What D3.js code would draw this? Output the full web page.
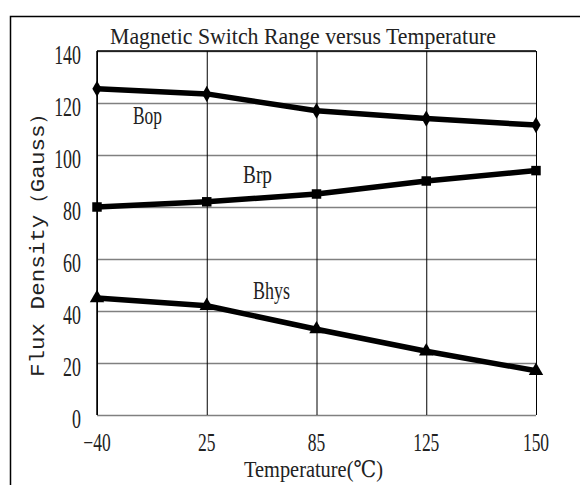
<!DOCTYPE html>
<html><head><meta charset="utf-8">
<script src="https://cdn.jsdelivr.net/npm/d3@7"></script>
<style>body{margin:0;background:#fff}svg{display:block}</style>
</head><body>
<svg id="c" width="580" height="485"></svg>
<script>
const categories = ["-40", "25", "85", "125", "150"];
const bop  = [125.5, 123.5, 117, 114, 111.5];
const brp  = [80, 82, 85, 90, 94];
const bhys = [45, 42, 33, 24.5, 17];
const yTicks = [0, 20, 40, 60, 80, 100, 120, 140];
const seriesNames = ["Bop", "Brp", "Bhys"];
const chartTitle = "Magnetic Switch Range versus Temperature";
const xTitle = "Temperature(℃)";
const yTitle = "Flux Density（Gauss）";

const svg = d3.select("#c");
const L = 97, R = 536, T = 51, B = 415;
const x = d3.scalePoint().domain(categories).range([L, R]);
const y = d3.scaleLinear().domain([0, 140]).range([B, T]);
const serif = "'Liberation Serif','DejaVu Serif',serif";

// outer frame
svg.append("rect").attr("x", 10.5).attr("y", 16.5).attr("width", 620).attr("height", 500)
  .attr("fill", "none").attr("stroke", "#000").attr("stroke-width", 1.5);

// horizontal grid
const gy = svg.append("g").attr("transform", `translate(${L},0)`)
  .call(d3.axisLeft(y).tickValues(yTicks).tickSize(-(R - L)).tickFormat(""));
gy.select(".domain").remove();
gy.selectAll(".tick line").attr("stroke", "#808080").attr("stroke-width", 1.3);

// vertical grid
const gx = svg.append("g").attr("transform", `translate(0,${B})`)
  .call(d3.axisBottom(x).tickSize(-(B - T)).tickFormat(""));
gx.select(".domain").remove();
gx.selectAll(".tick line").attr("stroke", "#000").attr("stroke-width", 1);

// frame lines
svg.append("line").attr("x1", L).attr("x2", R).attr("y1", y(140)).attr("y2", y(140)).attr("stroke", "#000").attr("stroke-width", 1.3);
svg.append("line").attr("x1", L).attr("x2", L).attr("y1", T).attr("y2", B).attr("stroke", "#000").attr("stroke-width", 1.5);

// condensed text helper
function ctext(px, py, str, size, anchor, sx) {
  svg.append("g").attr("transform", `translate(${px},${py}) scale(${sx},1)`)
    .append("text").attr("x", 0).attr("y", 0)
    .attr("text-anchor", anchor).attr("font-family", serif)
    .attr("font-size", size).attr("fill", "#222").text(str);
}

// y tick labels
yTicks.forEach(v => ctext(81, y(v) + 12.5, String(v), 28, "end", 0.64));
// x tick labels
categories.forEach(c => ctext(x(c), 451, c.replace("-", "−"), 25, "middle", 0.7));

// titles
svg.append("text").attr("x", 110).attr("y", 44).attr("font-family", serif).attr("font-size", 24)
  .attr("fill", "#222").attr("textLength", 386).attr("lengthAdjust", "spacingAndGlyphs").text(chartTitle);
svg.append("text").attr("x", 244).attr("y", 477).attr("font-family", serif).attr("font-size", 23)
  .attr("fill", "#222").attr("textLength", 139).attr("lengthAdjust", "spacingAndGlyphs").text(xTitle);
svg.append("text").attr("transform", "translate(43.5,377) rotate(-90)")
  .attr("x", 0).attr("y", 0).attr("font-family", "'Liberation Mono','DejaVu Sans Mono',monospace")
  .attr("font-size", 20).attr("fill", "#222").attr("textLength", 275).attr("lengthAdjust", "spacingAndGlyphs").text(yTitle);

// series
const series = [
  {name: seriesNames[0], vals: bop, sym: d3.symbolDiamond, size: 75, lx: 133, ly: 124, lw: 29},
  {name: seriesNames[1], vals: brp, sym: d3.symbolSquare, size: 90, lx: 243, ly: 183, lw: 29},
  {name: seriesNames[2], vals: bhys, sym: d3.symbolTriangle, size: 90, lx: 253, ly: 299, lw: 37}
];
const line = d3.line().x((d, i) => x(categories[i])).y(d => y(d));
series.forEach(s => {
  svg.append("path").datum(s.vals).attr("d", line).attr("fill", "none")
    .attr("stroke", "#000").attr("stroke-width", 5.5).attr("stroke-linejoin", "round");
  svg.selectAll(null).data(s.vals).enter().append("path")
    .attr("transform", (d, i) => `translate(${x(categories[i])},${y(d)})`)
    .attr("d", d3.symbol().type(s.sym).size(s.size)).attr("fill", "#000");
  svg.append("text").attr("x", s.lx).attr("y", s.ly).attr("font-family", serif).attr("font-size", 25)
    .attr("fill", "#222").attr("textLength", s.lw).attr("lengthAdjust", "spacingAndGlyphs").text(s.name);
});
</script>
</body></html>
